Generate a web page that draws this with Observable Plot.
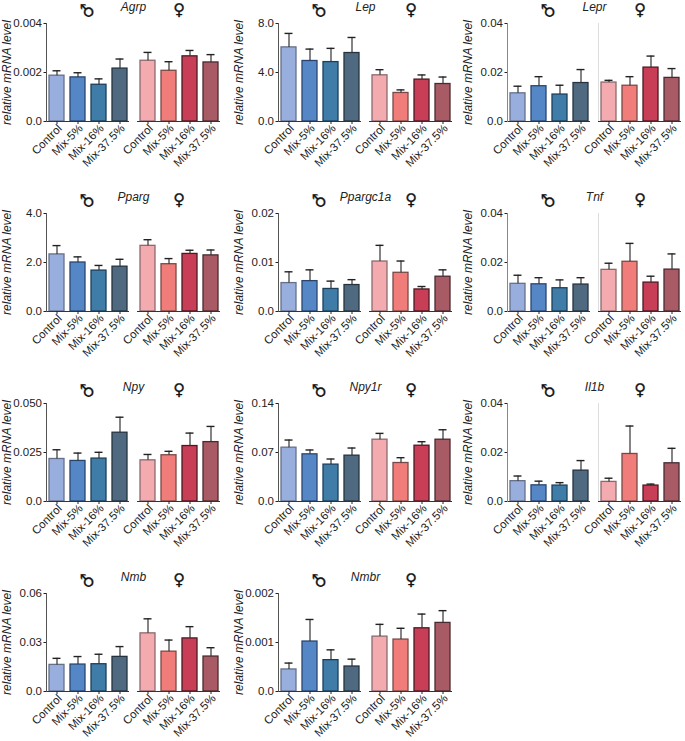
<!DOCTYPE html>
<html><head><meta charset="utf-8">
<script src="https://cdn.jsdelivr.net/npm/d3@7"></script>
<script src="https://cdn.jsdelivr.net/npm/@observablehq/plot@0.6"></script>
<style>
html,body{margin:0;padding:0;background:#fff}
#chart{position:relative;width:685px;height:741px;overflow:hidden}
</style></head><body><div id="chart"></div>
<script>
const treatments = ["Control","Mix-5%","Mix-16%","Mix-37.5%"];
const sexes = ["male","female"];
const barColors = ["#98aedc","#5587c6","#3f7da8","#4f6a80","#f3abb0","#f07d7a","#c93e57","#a85b65"];
const barStrokes = ["#66708a","#2a4670","#1c3f5a","#26333f","#8a6a6e","#7a4a48","#4a1a24","#4a2a30"];

const agrpMean = [.00187,.0018,.0015,.00216,.00248,.00207,.00266,.00241];
const agrpTop  = [.00207,.00199,.00174,.00255,.00282,.00244,.0029,.00273];
const lepMean = [6.05,4.94,4.85,5.59,3.77,2.33,3.42,3.06];
const lepTop  = [7.19,5.91,5.97,6.86,4.23,2.58,3.8,3.63];
const leprMean = [.0115,.0144,.011,.0157,.0159,.0146,.022,.0178];
const leprTop  = [.0144,.0183,.0148,.0212,.0168,.0183,.0267,.0216];
const ppargMean = [2.33,2.0,1.67,1.83,2.68,1.93,2.35,2.29];
const ppargTop  = [2.69,2.23,1.88,2.13,2.93,2.16,2.5,2.51];
const ppargc1aMean = [.0058,.0062,.0046,.0054,.0102,.0079,.0045,.0071];
const ppargc1aTop  = [.0081,.0085,.0062,.0065,.0135,.0103,.0051,.0085];
const tnfMean = [.0113,.0111,.0095,.011,.017,.0203,.0118,.0171];
const tnfTop  = [.0148,.0138,.0129,.0138,.0197,.0278,.0144,.0235];
const npyMean = [.0217,.0207,.0219,.0351,.021,.0236,.0283,.0303];
const npyTop  = [.0264,.0247,.0251,.043,.024,.0256,.0349,.0383];
const npy1rMean = [.0769,.0674,.0527,.0655,.0883,.055,.0797,.0883];
const npy1rTop  = [.0878,.0736,.0607,.0764,.0973,.0626,.0854,.1025];
const il1bMean = [.0083,.0066,.0065,.0126,.008,.0194,.0065,.0156];
const il1bTop  = [.0104,.0083,.0077,.0167,.0095,.0308,.0071,.0217];
const nmbMean = [.0163,.0165,.0167,.0212,.0356,.0244,.0325,.0214];
const nmbTop  = [.0203,.0214,.0228,.0275,.0445,.0315,.0397,.0268];
const nmbrMean = [.00045,.00102,.00064,.00051,.00112,.00106,.00129,.0014];
const nmbrTop  = [.00058,.00147,.00085,.00066,.00137,.00129,.00158,.00165];

const panels = [
  ["Agrp", agrpMean, agrpTop, [0,.002,.004], ["0.0","0.002","0.004"]],
  ["Lep", lepMean, lepTop, [0,4,8], ["0.0","4.0","8.0"]],
  ["Lepr", leprMean, leprTop, [0,.02,.04], ["0.0","0.02","0.04"]],
  ["Pparg", ppargMean, ppargTop, [0,2,4], ["0.0","2.0","4.0"]],
  ["Ppargc1a", ppargc1aMean, ppargc1aTop, [0,.01,.02], ["0.0","0.01","0.02"]],
  ["Tnf", tnfMean, tnfTop, [0,.02,.04], ["0.0","0.02","0.04"]],
  ["Npy", npyMean, npyTop, [0,.025,.05], ["0.0","0.025","0.050"]],
  ["Npy1r", npy1rMean, npy1rTop, [0,.07,.14], ["0.0","0.07","0.14"]],
  ["Il1b", il1bMean, il1bTop, [0,.02,.04], ["0.0","0.02","0.04"]],
  ["Nmb", nmbMean, nmbTop, [0,.03,.06], ["0.0","0.03","0.06"]],
  ["Nmbr", nmbrMean, nmbrTop, [0,.001,.002], ["0.0","0.001","0.002"]]
];

const colLeft = [0, 231.7, 460.7];
const rowTop = [0, 190, 380, 570];
const FONT = "'Liberation Sans', Arial, sans-serif";
const chart = document.getElementById("chart");

panels.forEach(([gene, means, tops, ticks, labels], i) => {
  const col = i % 3, row = Math.floor(i / 3);
  const rows = means.map((v, j) => ({
    sex: sexes[j < 4 ? 0 : 1],
    treatment: treatments[j % 4],
    key: String(j),
    mean: v,
    top: tops[j]
  }));
  const fig = Plot.plot({
    width: 225, height: 171,
    marginLeft: 45, marginRight: 5, marginTop: 23, marginBottom: 50,
    style: {fontFamily: FONT, fontSize: "11px", color: "#222", background: "transparent", overflow: "visible"},
    fx: {domain: sexes, axis: null, padding: 0.09},
    x: {domain: treatments, padding: 0.3, paddingOuter: 0.12, label: null},
    y: {domain: [0, ticks[2]], label: null},
    color: {domain: means.map((_, j) => String(j)), range: barColors},
    marks: [
      col === 2 ? Plot.frame({anchor: "left", fx: () => "female", stroke: "#ddd"}) : null,
      Plot.barY(rows, {fx: "sex", x: "treatment", y: "mean", fill: "key",
        stroke: d => barStrokes[+d.key], strokeWidth: 1.3}),
      Plot.ruleX(rows, {fx: "sex", x: "treatment", y1: "mean", y2: "top", stroke: "#333", strokeWidth: 1.2}),
      Plot.tickY(rows, {fx: "sex", x: "treatment", y: "top", stroke: "#222", strokeWidth: 1.4, insetLeft: 3.5, insetRight: 3.5}),
      Plot.ruleY([0], {stroke: "#333", strokeWidth: 1.2}),
      Plot.frame({anchor: "left", facet: "super", stroke: col === 2 ? "#888" : "#555"}),
      Plot.axisY({ticks, tickFormat: (d) => labels[ticks.indexOf(d)], tickSize: 2.5, tickPadding: 2, label: null, fontSize: 11.5}),
      Plot.axisX({tickSize: 3, tickFormat: () => "", label: null}),
      Plot.axisX({tickRotate: -45, tickSize: 0, tickPadding: 5, dx: 3, label: null, fontSize: 11.5}),
      Plot.text(["relative mRNA level"], {frameAnchor: "left", textAnchor: "middle", rotate: -90, dx: -39, fontStyle: "italic", fontSize: 12, facet: "super", fill: "#222"}),
      Plot.text([gene], {frameAnchor: "top", dy: -21, fontStyle: "italic", fontSize: 12, facet: "super", fill: "#222"}),
      Plot.text(["male"], {fx: d => d, text: () => "\u2642", frameAnchor: "top", dx: -7, dy: -13, rotate: -90, fontSize: 17, fontFamily: "DejaVu Sans", fill: "#111", stroke: "#111", strokeWidth: 0.3}),
      Plot.text(["female"], {fx: d => d, text: () => "\u2640", frameAnchor: "top", dy: -20, fontSize: 16, fontFamily: "DejaVu Sans", fill: "#111", stroke: "#111", strokeWidth: 0.3})
    ]
  });
  fig.style.position = "absolute";
  fig.style.left = colLeft[col] + "px";
  fig.style.top = rowTop[row] + "px";
  chart.appendChild(fig);
});
</script></body></html>
